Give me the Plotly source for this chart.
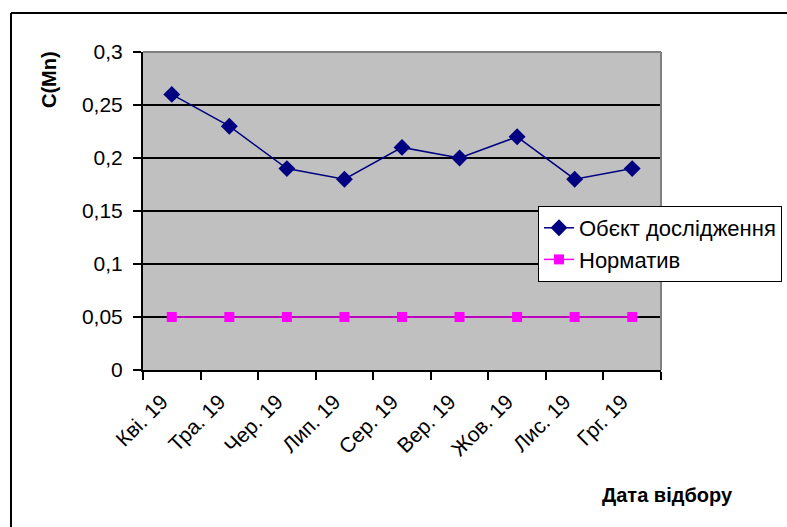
import plotly.graph_objects as go

# Sampling dates (months of 2019)
months = ["Кві. 19", "Тра. 19", "Чер. 19", "Лип. 19", "Сер. 19",
          "Вер. 19", "Жов. 19", "Лис. 19", "Грг. 19"]

# Manganese concentration at the studied site
object_values = [0.26, 0.23, 0.19, 0.18, 0.21, 0.20, 0.22, 0.18, 0.19]

# Regulatory limit
norm_values = [0.05] * len(months)

# Y axis ticks with decimal commas
y_tickvals = [0, 0.05, 0.1, 0.15, 0.2, 0.25, 0.3]
y_ticktext = ["0", "0,05", "0,1", "0,15", "0,2", "0,25", "0,3"]

FONT = "Liberation Sans, Arial, sans-serif"

W, H = 787, 527
L, R, T, B = 143, 126, 52, 157
PW, PH = W - L - R, H - T - B


def px_x(px):
    return (px - L) / PW


def px_y(py):
    return (H - B - py) / PH


fig = go.Figure()

fig.add_trace(go.Scatter(
    x=months, y=object_values, name="Обєкт дослідження",
    mode="lines+markers",
    line=dict(color="#000080", width=1.5),
    marker=dict(symbol="diamond", size=13, color="#000080"),
))

fig.add_trace(go.Scatter(
    x=months, y=norm_values, name="Норматив",
    mode="lines+markers",
    line=dict(color="#FF00FF", width=1.5),
    marker=dict(symbol="square", size=10, color="#FF00FF"),
))

shapes = [
    # grey frame of the plotting area (top and right edges)
    dict(type="line", xref="paper", yref="paper", x0=0, x1=1, y0=1, y1=1,
         line=dict(color="#808080", width=2), layer="above"),
    dict(type="line", xref="paper", yref="paper", x0=1, x1=1, y0=0, y1=1,
         line=dict(color="#808080", width=2), layer="above"),
    # outer chart border (top and left)
    dict(type="line", xref="paper", yref="paper",
         x0=px_x(11), x1=px_x(W + 20), y0=px_y(13), y1=px_y(13),
         line=dict(color="#000000", width=2)),
    dict(type="line", xref="paper", yref="paper",
         x0=px_x(11), x1=px_x(11), y0=px_y(13), y1=px_y(H + 20),
         line=dict(color="#000000", width=2)),
]

annotations = [
    dict(text="<b>C(Mn)</b>", xref="paper", yref="paper",
         x=px_x(49), y=px_y(80), showarrow=False, textangle=-90,
         font=dict(family=FONT, size=20, color="#000000"),
         xanchor="center", yanchor="middle"),
    dict(text="<b>Дата відбору</b>", xref="paper", yref="paper",
         x=px_x(667), y=px_y(495), showarrow=False,
         font=dict(family=FONT, size=20, color="#000000"),
         xanchor="center", yanchor="middle"),
]

fig.update_layout(
    width=W, height=H,
    margin=dict(l=L, r=R, t=T, b=B, pad=0, autoexpand=False),
    paper_bgcolor="#FFFFFF",
    plot_bgcolor="#C0C0C0",
    font=dict(family=FONT, size=21, color="#000000"),
    showlegend=True,
    legend=dict(
        x=px_x(538), y=px_y(206), xanchor="left", yanchor="top",
        bgcolor="#FFFFFF", bordercolor="#000000", borderwidth=1,
        font=dict(family=FONT, size=22, color="#000000"),
        tracegroupgap=0,
    ),
    shapes=shapes,
    annotations=annotations,
)

fig.update_xaxes(
    type="category",
    range=[-0.5, len(months) - 0.5],
    tickson="boundaries",
    ticks="outside", ticklen=8, tickwidth=2, tickcolor="#000000",
    tickangle=-45,
    ticklabelstandoff=9, ticklabelshift=-10,
    showline=True, linecolor="#000000", linewidth=2,
    showgrid=False, zeroline=False,
    tickfont=dict(family=FONT, size=21, color="#000000"),
)

fig.update_yaxes(
    range=[0, 0.3],
    tickvals=y_tickvals, ticktext=y_ticktext,
    ticks="outside", ticklen=8, tickwidth=2, tickcolor="#000000",
    ticklabelstandoff=6,
    showline=True, linecolor="#000000", linewidth=2,
    showgrid=True, gridcolor="#000000", gridwidth=1.5,
    zeroline=False,
    tickfont=dict(family=FONT, size=21, color="#000000"),
)

fig.write_html("out.html")
